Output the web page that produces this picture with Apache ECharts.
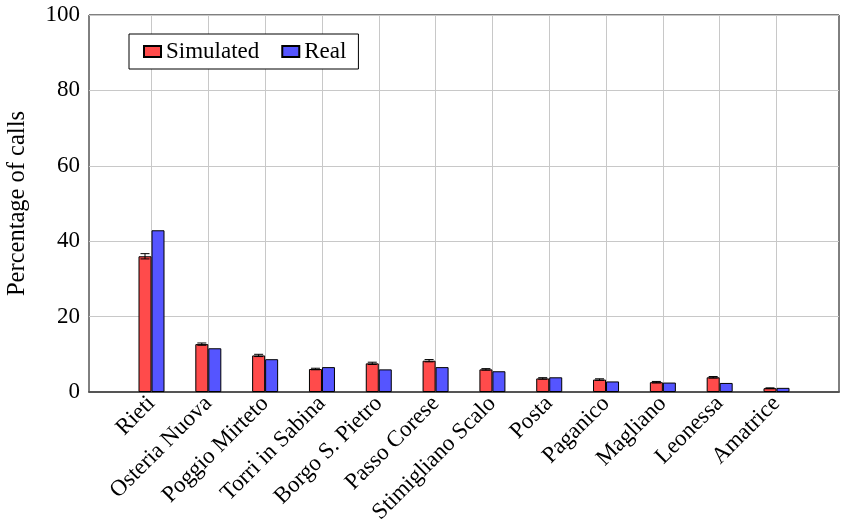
<!DOCTYPE html>
<html>
<head>
<meta charset="utf-8">
<script src="https://cdn.jsdelivr.net/npm/echarts@6/dist/echarts.min.js"></script>
<style>
  html, body { margin: 0; padding: 0; background: #fff; }
  #chart { width: 846px; height: 528px; }
</style>
</head>
<body>
<div id="chart"></div>
<script>
var towns = ['Rieti', 'Osteria Nuova', 'Poggio Mirteto', 'Torri in Sabina', 'Borgo S. Pietro',
    'Passo Corese', 'Stimigliano Scalo', 'Posta', 'Paganico', 'Magliano', 'Leonessa', 'Amatrice'];
var simulated = [36.0, 12.7, 9.7, 6.1, 7.6, 8.3, 6.0, 3.6, 3.3, 2.6, 3.9, 1.0];
var simErr = [0.7, 0.3, 0.3, 0.2, 0.3, 0.3, 0.2, 0.2, 0.2, 0.2, 0.2, 0.1];
var real = [42.9, 11.6, 8.7, 6.6, 6.0, 6.6, 5.5, 3.9, 2.8, 2.5, 2.4, 1.1];
var yTicks = [0, 20, 40, 60, 80, 100];

var FONT = '"Liberation Serif", "DejaVu Serif", serif';

var chart = echarts.init(document.getElementById('chart'), null, {renderer: 'canvas'});

var idx = [];
for (var i = 0; i < towns.length; i++) idx.push(i);

var simData = [], realData = [], errData = [];
for (var i = 0; i < towns.length; i++) {
    simData.push([i, simulated[i]]);
    realData.push([i, real[i]]);
    errData.push([i, simulated[i], simErr[i]]);
}

var barW = 13;

// error bars sit on the simulated (left) bar
function renderErr(params, api) {
    var x = api.value(0), v = api.value(1), e = api.value(2);
    var top = api.coord([x, v + e]);
    var bot = api.coord([x, v - e]);
    var cx = top[0] - barW / 2;
    var cap = 4.5;
    var st = {stroke: '#000', lineWidth: 1};
    return {
        type: 'group',
        children: [
            {type: 'line', shape: {x1: cx, y1: top[1], x2: cx, y2: bot[1]}, style: st},
            {type: 'line', shape: {x1: cx - cap, y1: top[1], x2: cx + cap, y2: top[1]}, style: st},
            {type: 'line', shape: {x1: cx - cap, y1: bot[1], x2: cx + cap, y2: bot[1]}, style: st}
        ]
    };
}

var option = {
    backgroundColor: '#fff',
    animation: false,
    textStyle: {fontFamily: FONT},
    grid: {
        left: 89, right: 7, top: 15, bottom: 136,
        show: true, borderColor: '#000', borderWidth: 1,
        containLabel: false,
        outerBoundsMode: 'none'
    },
    legend: {
        left: 129, top: 34,
        orient: 'horizontal',
        data: ['Simulated', 'Real'],
        icon: 'rect',
        itemWidth: 17, itemHeight: 11,
        itemGap: 22,
        padding: [6, 12, 6, 14],
        borderColor: '#000', borderWidth: 1,
        backgroundColor: '#fff',
        textStyle: {fontFamily: FONT, fontSize: 23, color: '#000'}
    },
    xAxis: {
        type: 'value',
        min: -1.1, max: 12.1,
        axisLine: {show: true, onZero: false, lineStyle: {color: '#555', width: 2}},
        axisTick: {show: false, customValues: idx},
        axisLabel: {
            customValues: idx,
            rotate: 45,
            margin: 8,
            fontFamily: FONT, fontSize: 23, color: '#000',
            formatter: function (v) { return towns[Math.round(v)] || ''; }
        },
        splitLine: {show: true, lineStyle: {color: '#c8c8c8', width: 1}}
    },
    yAxis: {
        type: 'value',
        min: 0, max: 100, interval: 20,
        name: 'Percentage of calls',
        nameLocation: 'middle',
        nameGap: 59,
        nameRotate: 90,
        nameMoveOverlap: false,
        nameTextStyle: {fontFamily: FONT, fontSize: 24.5, color: '#000'},
        axisLine: {show: false},
        axisTick: {show: false},
        axisLabel: {
            customValues: yTicks,
            margin: 9,
            fontFamily: FONT, fontSize: 23, color: '#000'
        },
        splitLine: {show: true, lineStyle: {color: '#c8c8c8', width: 1}}
    },
    series: [
        {
            name: 'Simulated',
            type: 'bar',
            data: simData,
            barWidth: barW,
            barGap: '0%',
            itemStyle: {color: '#ff4b4b', borderColor: '#000', borderWidth: 1}
        },
        {
            name: 'Real',
            type: 'bar',
            data: realData,
            barWidth: barW,
            barGap: '0%',
            itemStyle: {color: '#5555ff', borderColor: '#000', borderWidth: 1}
        },
        {
            name: 'err',
            type: 'custom',
            renderItem: renderErr,
            data: errData,
            encode: {x: 0, y: 1},
            z: 5
        }
    ]
};

chart.setOption(option);
</script>
</body>
</html>
